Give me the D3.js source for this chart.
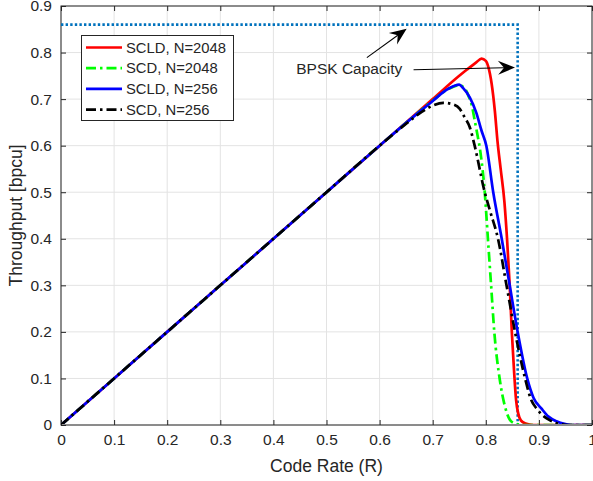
<!DOCTYPE html>
<html>
<head>
<meta charset="utf-8">
<script src="https://cdn.jsdelivr.net/npm/d3@7"></script>
<style>
body { margin: 0; background: #fff; }
text { font-family: "Liberation Sans", Arial, sans-serif; fill: #262626; }
</style>
</head>
<body>
<div id="chart"></div>
<script>
// throughput vs code rate
var rSclD2048 = [0, 0.1, 0.2, 0.3, 0.4, 0.5, 0.6, 0.7, 0.75, 0.764, 0.782, 0.792, 0.8, 0.805, 0.811, 0.817, 0.822, 0.828, 0.835, 0.84, 0.845, 0.849, 0.853, 0.857, 0.861, 0.866, 0.875, 0.89, 1];
var tSclD2048 = [0, 0.1, 0.2, 0.3, 0.4, 0.5, 0.6, 0.7, 0.75, 0.763, 0.779, 0.787, 0.782, 0.768, 0.733, 0.675, 0.61, 0.55, 0.48, 0.4, 0.3, 0.2, 0.12, 0.054, 0.025, 0.01, 0.003, 0, 0];

var rScd2048 = [0, 0.1, 0.2, 0.3, 0.4, 0.5, 0.6, 0.65, 0.7, 0.73, 0.75, 0.762, 0.768, 0.774, 0.779, 0.784, 0.79, 0.798, 0.804, 0.81, 0.816, 0.826, 0.836, 0.845, 0.855, 0.87, 1];
var tScd2048 = [0, 0.1, 0.2, 0.3, 0.4, 0.5, 0.6, 0.649, 0.697, 0.722, 0.73, 0.72, 0.705, 0.685, 0.655, 0.625, 0.585, 0.5, 0.4, 0.3, 0.2, 0.1, 0.04, 0.012, 0.003, 0, 0];

var rSclD256 = [0, 0.1, 0.2, 0.3, 0.4, 0.5, 0.6, 0.65, 0.7, 0.72, 0.74, 0.75, 0.757, 0.77, 0.782, 0.792, 0.801, 0.814, 0.83, 0.845, 0.86, 0.878, 0.89, 0.905, 0.918, 0.933, 0.95, 0.96, 1];
var tSclD256 = [0, 0.1, 0.2, 0.3, 0.4, 0.5, 0.6, 0.649, 0.696, 0.715, 0.728, 0.731, 0.724, 0.703, 0.671, 0.632, 0.6, 0.5, 0.4, 0.3, 0.2, 0.1, 0.058, 0.035, 0.018, 0.008, 0.002, 0, 0];

var rScd256 = [0, 0.1, 0.2, 0.3, 0.4, 0.5, 0.6, 0.65, 0.68, 0.7, 0.72, 0.74, 0.751, 0.76, 0.77, 0.779, 0.798, 0.808, 0.823, 0.839, 0.855, 0.874, 0.885, 0.896, 0.91, 0.921, 0.94, 0.955, 1];
var tScd256 = [0, 0.1, 0.2, 0.3, 0.4, 0.5, 0.6, 0.647, 0.673, 0.686, 0.692, 0.688, 0.679, 0.661, 0.639, 0.6, 0.5, 0.46, 0.4, 0.3, 0.2, 0.1, 0.055, 0.035, 0.018, 0.01, 0.002, 0, 0];

// BPSK capacity corner
var capRate = [0, 0.86, 0.86];
var capThr = [0.86, 0.86, 0];

var seriesNames = ["SCLD, N=2048", "SCD, N=2048", "SCLD, N=256", "SCD, N=256"];
var xTicks = [0, 0.1, 0.2, 0.3, 0.4, 0.5, 0.6, 0.7, 0.8, 0.9, 1];
var yTicks = [0, 0.1, 0.2, 0.3, 0.4, 0.5, 0.6, 0.7, 0.8, 0.9];

var W = 593, H = 481;
var margin = {top: 6, right: 1, bottom: 56, left: 61};

var svg = d3.select("#chart").append("svg")
  .attr("width", W).attr("height", H);

var x = d3.scaleLinear().domain([0, 1]).range([margin.left, W - margin.right]);
var y = d3.scaleLinear().domain([0, 0.9]).range([H - margin.bottom, margin.top]);

svg.append("rect").attr("width", W).attr("height", H).attr("fill", "#fff");

// grid
var grid = svg.append("g");
grid.selectAll(".gx").data(xTicks).enter().append("line")
  .attr("x1", d => x(d)).attr("x2", d => x(d))
  .attr("y1", y(0)).attr("y2", y(0.9))
  .attr("stroke", "#e3e3e3").attr("stroke-width", 1);
grid.selectAll(".gy").data(yTicks).enter().append("line")
  .attr("x1", x(0)).attr("x2", x(1))
  .attr("y1", d => y(d)).attr("y2", d => y(d))
  .attr("stroke", "#e3e3e3").attr("stroke-width", 1);

// axes, ticks inward on all four sides
var axisColor = "#262626";
function styleAxis(g) {
  g.select(".domain").remove();
  g.selectAll(".tick line").attr("stroke", axisColor);
  g.selectAll(".tick text").style("font-size", "15.5px").attr("fill", axisColor);
}
svg.append("g").attr("transform", "translate(0," + y(0) + ")")
  .call(d3.axisBottom(x).tickValues(xTicks).tickSize(-5).tickPadding(9).tickFormat(d3.format("~g")))
  .call(styleAxis);
svg.append("g").attr("transform", "translate(" + x(0) + ",0)")
  .call(d3.axisLeft(y).tickValues(yTicks).tickSize(-5).tickPadding(9).tickFormat(d3.format("~g")))
  .call(styleAxis);
svg.append("g").attr("transform", "translate(0," + y(0.9) + ")")
  .call(d3.axisTop(x).tickValues(xTicks).tickSize(-5).tickFormat(""))
  .call(styleAxis);
svg.append("g").attr("transform", "translate(" + x(1) + ",0)")
  .call(d3.axisRight(y).tickValues(yTicks).tickSize(-5).tickFormat(""))
  .call(styleAxis);

svg.append("rect")
  .attr("x", x(0)).attr("y", y(0.9))
  .attr("width", x(1) - x(0)).attr("height", y(0) - y(0.9))
  .attr("fill", "none").attr("stroke", axisColor).attr("stroke-width", 1);

// data lines
var line = d3.line()
  .x(d => x(d[0])).y(d => y(d[1]))
  .curve(d3.curveMonotoneX);

function zip(a, b) { return a.map((v, i) => [v, b[i]]); }

svg.append("clipPath").attr("id", "clip").append("rect")
  .attr("x", x(0)).attr("y", y(0.9) - 2)
  .attr("width", x(1) - x(0)).attr("height", y(0) - y(0.9) + 1);

var series = [
  {name: seriesNames[0], data: zip(rSclD2048, tSclD2048), color: "#ff0000", dash: null},
  {name: seriesNames[1], data: zip(rScd2048, tScd2048), color: "#00ff00", dash: "10,4,2.5,4"},
  {name: seriesNames[2], data: zip(rSclD256, tSclD256), color: "#0000ff", dash: null},
  {name: seriesNames[3], data: zip(rScd256, tScd256), color: "#000000", dash: "10,4,2.5,4"}
];

var plot = svg.append("g").attr("clip-path", "url(#clip)");

plot.append("path")
  .datum(zip(capRate, capThr))
  .attr("d", d3.line().x(d => x(d[0])).y(d => y(d[1])))
  .attr("fill", "none").attr("stroke", "#0072bd")
  .attr("stroke-width", 2.6).attr("stroke-dasharray", "2.4,2.2");

plot.selectAll(".series").data(series).enter().append("path")
  .attr("d", d => line(d.data))
  .attr("fill", "none")
  .attr("stroke", d => d.color)
  .attr("stroke-width", 2.7)
  .attr("stroke-dasharray", d => d.dash);

// annotation
svg.append("text")
  .attr("x", x(0.443)).attr("y", y(0.755))
  .style("font-size", "15.5px")
  .text("BPSK Capacity");

function arrow(from, to) {
  var x1 = x(from[0]), y1 = y(from[1]), x2 = x(to[0]), y2 = y(to[1]);
  var ang = Math.atan2(y2 - y1, x2 - x1);
  var L = 17, Wd = 7, back = 11;
  svg.append("line")
    .attr("x1", x1).attr("y1", y1)
    .attr("x2", x2 - Math.cos(ang) * back).attr("y2", y2 - Math.sin(ang) * back)
    .attr("stroke", "#000").attr("stroke-width", 1.1);
  var pts = [[0, 0], [-L, -Wd], [-back, 0], [-L, Wd]].map(p => [
    x2 + p[0] * Math.cos(ang) - p[1] * Math.sin(ang),
    y2 + p[0] * Math.sin(ang) + p[1] * Math.cos(ang)
  ]);
  svg.append("path").attr("d", "M" + pts.join("L") + "Z").attr("fill", "#000");
}
arrow([0.576, 0.789], [0.651, 0.851]);
arrow([0.664, 0.763], [0.855, 0.768]);

// legend
var lg = svg.append("g");
lg.append("rect")
  .attr("x", 81.5).attr("y", 35.5).attr("width", 152).attr("height", 85)
  .attr("fill", "#fff").attr("stroke", axisColor).attr("stroke-width", 1);
var items = lg.selectAll(".item").data(series).enter().append("g")
  .attr("transform", (d, i) => "translate(0," + (47.5 + i * 20.7) + ")");
items.append("line")
  .attr("x1", 86).attr("x2", 122).attr("y1", 0).attr("y2", 0)
  .attr("stroke", d => d.color).attr("stroke-width", 2.7)
  .attr("stroke-dasharray", d => d.dash);
items.append("text")
  .attr("x", 126).attr("y", 0).attr("dy", "0.35em")
  .style("font-size", "14.8px")
  .text(d => d.name);

// axis labels
svg.append("text")
  .attr("x", (x(0) + x(1)) / 2).attr("y", 472)
  .attr("text-anchor", "middle")
  .style("font-size", "17.5px")
  .text("Code Rate (R)");
svg.append("text")
  .attr("transform", "translate(22," + ((y(0) + y(0.9)) / 2) + ") rotate(-90)")
  .attr("text-anchor", "middle")
  .style("font-size", "17.5px")
  .text("Throughput [bpcu]");
</script>
</body>
</html>
